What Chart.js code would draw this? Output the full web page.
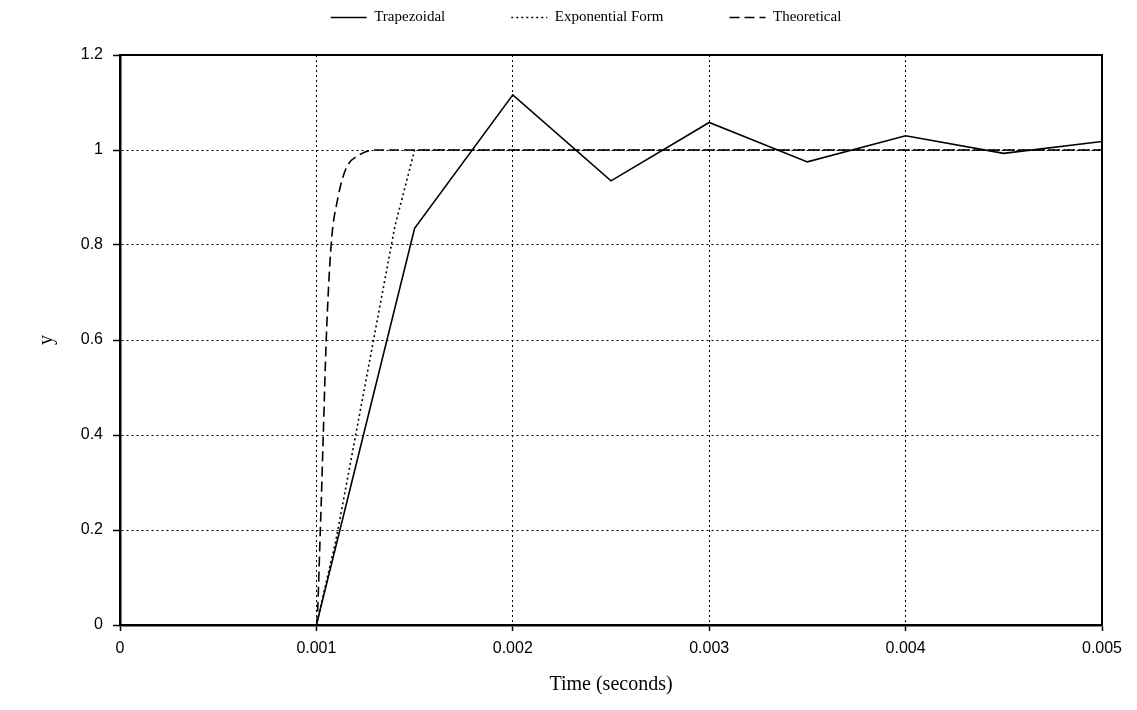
<!DOCTYPE html>
<html>
<head>
<meta charset="utf-8">
<script src="https://cdn.jsdelivr.net/npm/chart.js@4.4.1/dist/chart.umd.min.js"></script>
<style>
  html, body { margin: 0; padding: 0; background: #fff; }
  #wrap { width: 1137px; height: 710px; }
</style>
</head>
<body>
<div id="wrap"><canvas id="c" width="1137" height="710"></canvas></div>
<script>
// ---- data ----
const trapT = [0, 0.001, 0.0015, 0.002, 0.0025, 0.003, 0.0035, 0.004, 0.0045, 0.005];
const trapY = [0, 0, 0.835, 1.116, 0.935, 1.058, 0.975, 1.03, 0.993, 1.018];

const expT = [0, 0.001, 0.0011, 0.0012, 0.0013, 0.0014, 0.0015, 0.005];
const expY = [0, 0, 0.18, 0.40, 0.62, 0.84, 1.0, 1.0];

const theoT = [0, 0.001, 0.00102, 0.001035, 0.00105, 0.001075, 0.00111, 0.00115, 0.00122, 0.0013, 0.005];
const theoY = [0, 0, 0.2, 0.4, 0.6, 0.8, 0.9, 0.96, 0.99, 1.0, 1.0];

const xTickLabels = ['0', '0.001', '0.002', '0.003', '0.004', '0.005'];
const yTickLabels = ['0', '0.2', '0.4', '0.6', '0.8', '1', '1.2'];

const seriesNames = ['Trapezoidal', 'Exponential Form', 'Theoretical'];

const pts = (t, y) => t.map((v, i) => ({ x: v, y: y[i] }));

const tickFont = { family: 'Liberation Sans, Arial, sans-serif', size: 16 };
const serifFont = { family: 'Liberation Serif, Times New Roman, serif', size: 20 };

new Chart(document.getElementById('c'), {
  type: 'line',
  data: {
    datasets: [
      { label: seriesNames[0], data: pts(trapT, trapY), borderColor: '#000', borderWidth: 1.6,
        pointRadius: 0, tension: 0, fill: false },
      { label: seriesNames[1], data: pts(expT, expY), borderColor: '#000', borderWidth: 1.6,
        borderDash: [2, 3], pointRadius: 0, tension: 0, fill: false },
      { label: seriesNames[2], data: pts(theoT, theoY), borderColor: '#000', borderWidth: 1.6,
        borderDash: [10, 5], pointRadius: 0, cubicInterpolationMode: 'monotone', fill: false }
    ]
  },
  options: {
    responsive: false,
    animation: false,
    layout: { padding: { left: 35, right: 0, top: 4, bottom: 0 } },
    plugins: {
      legend: {
        display: true,
        position: 'top',
        labels: {
          usePointStyle: true,
          pointStyle: 'line',
          pointStyleWidth: 36,
          boxHeight: 12,
          padding: 6,
          color: '#000',
          font: { family: 'Liberation Serif, Times New Roman, serif', size: 15 },
          generateLabels: (chart) => {
            const items = Chart.defaults.plugins.legend.labels.generateLabels(chart);
            return items.map((it, i) => {
              const ds = chart.data.datasets[it.datasetIndex];
              it.lineDash = ds.borderDash || [];
              it.lineWidth = 1.5;
              it.strokeStyle = '#000';
              if (i < items.length - 1) it.text = it.text + '\u2003\u2003\u2003\u2003';
              return it;
            });
          }
        }
      },
      tooltip: { enabled: false }
    },
    scales: {
      x: {
        type: 'linear',
        position: 'bottom',
        min: 0, max: 0.005,
        afterBuildTicks: (s) => { s.ticks = xTickLabels.map(v => ({ value: parseFloat(v) })); },
        ticks: {
          color: '#000', font: tickFont, padding: 8, maxRotation: 0,
          callback: (v, i) => xTickLabels[i]
        },
        grid: { color: '#000', lineWidth: 1, drawTicks: true, tickLength: 6,
                tickColor: '#000', tickBorderDash: [], tickWidth: 1.5 },
        border: { display: true, color: '#000', width: 2.5, dash: [2, 3] },
        title: { display: true, text: 'Time (seconds)', color: '#000', font: serifFont, padding: { top: 4, bottom: 13 } },
        afterFit: (s) => { s.height = 85; }
      },
      xTop: {
        type: 'linear',
        position: 'top',
        min: 0, max: 0.005,
        ticks: { display: false },
        grid: { display: false },
        border: { display: true, color: '#000', width: 2 },
        afterFit: (s) => { s.height = 20; }
      },
      y: {
        type: 'linear',
        position: 'left',
        min: 0, max: 1.2,
        afterBuildTicks: (s) => { s.ticks = yTickLabels.map(v => ({ value: parseFloat(v) })); },
        ticks: {
          color: '#000', font: tickFont, padding: 10,
          callback: (v, i) => yTickLabels[i]
        },
        grid: { color: '#000', lineWidth: 1, drawTicks: true, tickLength: 7,
                tickColor: '#000', tickBorderDash: [], tickWidth: 1.5 },
        border: { display: true, color: '#000', width: 2.5, dash: [2, 3] },
        title: { display: true, text: 'y', color: '#000', font: serifFont, padding: { top: 0, bottom: 0 } },
        afterFit: (s) => { s.width = 85; }
      },
      yRight: {
        type: 'linear',
        position: 'right',
        min: 0, max: 1.2,
        ticks: { display: false },
        grid: { display: false },
        border: { display: true, color: '#000', width: 2 },
        afterFit: (s) => { s.width = 35; }
      }
    }
  }
});
</script>
</body>
</html>
